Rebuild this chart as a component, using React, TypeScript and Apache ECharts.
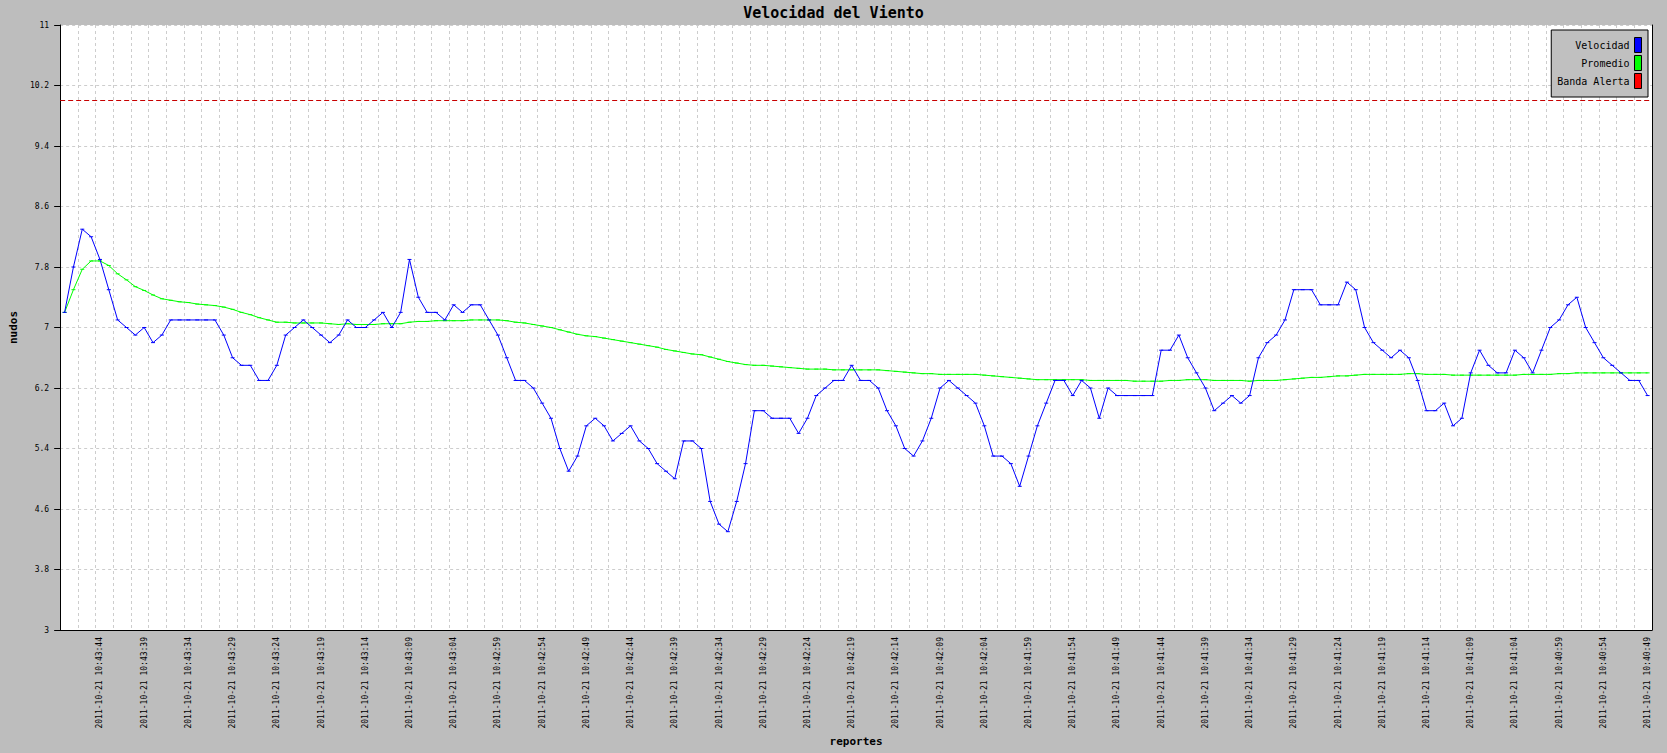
import React, { useEffect, useRef } from 'react';
import * as echarts from 'echarts';

const chartTitle = 'Velocidad del Viento';
const yAxisTitle = 'nudos';
const xAxisTitle = 'reportes';
const reportDate = '2011-10-21';
// leftmost (most recent) report; the reports go back one second each
const firstReportTime = '10:43:48';
const seriesNames = ['Velocidad', 'Promedio', 'Banda Alerta'];

const velocidad = [
  7.2, 7.8, 8.3, 8.2, 7.9, 7.5, 7.1, 7.0, 6.9, 7.0,
  6.8, 6.9, 7.1, 7.1, 7.1, 7.1, 7.1, 7.1, 6.9, 6.6,
  6.5, 6.5, 6.3, 6.3, 6.5, 6.9, 7.0, 7.1, 7.0, 6.9,
  6.8, 6.9, 7.1, 7.0, 7.0, 7.1, 7.2, 7.0, 7.2, 7.9,
  7.4, 7.2, 7.2, 7.1, 7.3, 7.2, 7.3, 7.3, 7.1, 6.9,
  6.6, 6.3, 6.3, 6.2, 6.0, 5.8, 5.4, 5.1, 5.3, 5.7,
  5.8, 5.7, 5.5, 5.6, 5.7, 5.5, 5.4, 5.2, 5.1, 5.0,
  5.5, 5.5, 5.4, 4.7, 4.4, 4.3, 4.7, 5.2, 5.9, 5.9,
  5.8, 5.8, 5.8, 5.6, 5.8, 6.1, 6.2, 6.3, 6.3, 6.5,
  6.3, 6.3, 6.2, 5.9, 5.7, 5.4, 5.3, 5.5, 5.8, 6.2,
  6.3, 6.2, 6.1, 6.0, 5.7, 5.3, 5.3, 5.2, 4.9, 5.3,
  5.7, 6.0, 6.3, 6.3, 6.1, 6.3, 6.2, 5.8, 6.2, 6.1,
  6.1, 6.1, 6.1, 6.1, 6.7, 6.7, 6.9, 6.6, 6.4, 6.2,
  5.9, 6.0, 6.1, 6.0, 6.1, 6.6, 6.8, 6.9, 7.1, 7.5,
  7.5, 7.5, 7.3, 7.3, 7.3, 7.6, 7.5, 7.0, 6.8, 6.7,
  6.6, 6.7, 6.6, 6.3, 5.9, 5.9, 6.0, 5.7, 5.8, 6.4,
  6.7, 6.5, 6.4, 6.4, 6.7, 6.6, 6.4, 6.7, 7.0, 7.1,
  7.3, 7.4, 7.0, 6.8, 6.6, 6.5, 6.4, 6.3, 6.3, 6.1,
];

const promedio = [
  7.20, 7.50, 7.77, 7.88, 7.88, 7.82, 7.71, 7.63, 7.54, 7.49,
  7.43, 7.38, 7.36, 7.34, 7.33, 7.31, 7.30, 7.29, 7.27, 7.24,
  7.20, 7.17, 7.13, 7.10, 7.07, 7.07, 7.06, 7.06, 7.06, 7.06,
  7.05, 7.04, 7.05, 7.04, 7.04, 7.04, 7.05, 7.05, 7.05, 7.07,
  7.08, 7.08, 7.09, 7.09, 7.09, 7.09, 7.10, 7.10, 7.10, 7.10,
  7.09, 7.07, 7.06, 7.04, 7.02, 7.00, 6.97, 6.94, 6.91, 6.89,
  6.88, 6.86, 6.84, 6.82, 6.80, 6.78, 6.76, 6.74, 6.71, 6.69,
  6.67, 6.65, 6.64, 6.61, 6.58, 6.55, 6.53, 6.51, 6.50, 6.50,
  6.49, 6.48, 6.47, 6.46, 6.45, 6.45, 6.45, 6.44, 6.44, 6.44,
  6.44, 6.44, 6.44, 6.43, 6.42, 6.41, 6.40, 6.39, 6.39, 6.38,
  6.38, 6.38, 6.38, 6.38, 6.37, 6.36, 6.35, 6.34, 6.33, 6.32,
  6.31, 6.31, 6.31, 6.31, 6.31, 6.31, 6.30, 6.30, 6.30, 6.30,
  6.30, 6.29, 6.29, 6.29, 6.29, 6.30, 6.30, 6.31, 6.31, 6.31,
  6.30, 6.30, 6.30, 6.30, 6.29, 6.30, 6.30, 6.30, 6.31, 6.32,
  6.33, 6.34, 6.34, 6.35, 6.36, 6.36, 6.37, 6.38, 6.38, 6.38,
  6.38, 6.38, 6.39, 6.39, 6.38, 6.38, 6.38, 6.37, 6.37, 6.37,
  6.37, 6.37, 6.37, 6.37, 6.37, 6.38, 6.38, 6.38, 6.38, 6.39,
  6.39, 6.40, 6.40, 6.40, 6.40, 6.40, 6.40, 6.40, 6.40, 6.40,
];

const alertBand = 10;
const yMin = 3;
const yMax = 11;
const yStep = 0.8;
const labelEvery = 5; // a timestamp label every 5 reports
const gridEvery = 2; // a vertical grid line every 2 reports

const pad2 = (n: number) => String(n).padStart(2, '0');
const toSeconds = (s: string) => {
  const [h, m, sec] = s.split(':').map(Number);
  return h * 3600 + m * 60 + sec;
};
const reportTimes = velocidad.map((_, i) => {
  const t = toSeconds(firstReportTime) - i;
  return `${reportDate} ${pad2(Math.floor(t / 3600))}:${pad2(Math.floor((t % 3600) / 60))}:${pad2(t % 60)}`;
});

const mono = "'DejaVu Sans Mono', 'Liberation Mono', monospace";
const gridLine = { color: '#CDCDCD', width: 1, type: [3, 3] as number[] };

export default function App() {
  const ref = useRef<HTMLDivElement>(null);

  useEffect(() => {
    if (!ref.current) return;
    const chart = echarts.init(ref.current, undefined, { renderer: 'svg' });
    const option = {
      animation: false,
      backgroundColor: '#BDBDBD',
      title: {
        text: chartTitle,
        left: 'center',
        top: 5,
        padding: 0,
        textStyle: { fontFamily: mono, fontSize: 15, fontWeight: 'bold', color: '#000' },
      },
      legend: {
        data: seriesNames,
        orient: 'vertical',
        align: 'right',
        right: 19,
        top: 30,
        backgroundColor: '#C0C0C0',
        borderColor: '#000',
        borderWidth: 1,
        borderRadius: 0,
        padding: [7, 6, 8, 6],
        itemGap: 2,
        itemWidth: 7,
        itemHeight: 15,
        icon: 'rect',
        selectedMode: false,
        itemStyle: { borderColor: '#000', borderWidth: 1 },
        textStyle: { fontFamily: mono, fontSize: 10, color: '#000' },
      },
      grid: {
        left: 53,
        right: 15,
        top: 25,
        bottom: 123,
        show: true,
        backgroundColor: '#FFFFFF',
        borderWidth: 0,
      },
      xAxis: [
        {
          type: 'category',
          data: reportTimes,
          boundaryGap: true,
          name: xAxisTitle,
          nameLocation: 'middle',
          nameGap: 106,
          nameTextStyle: { fontFamily: mono, fontSize: 11, fontWeight: 'bold', color: '#000' },
          axisLine: { show: true, lineStyle: { color: '#000', width: 1 } },
          axisTick: { show: false },
          axisLabel: {
            interval: (i: number) => i % labelEvery === labelEvery - 1,
            rotate: 90,
            fontSize: 8,
            fontFamily: mono,
            color: '#000',
            margin: 7,
          },
          splitLine: { show: false },
          z: 3,
        },
        {
          // only carries the vertical grid lines, one every two reports
          type: 'value',
          position: 'bottom',
          min: 0,
          max: reportTimes.length,
          interval: gridEvery,
          axisLine: { show: false },
          axisTick: { show: false },
          axisLabel: { show: false },
          splitLine: { show: true, lineStyle: gridLine },
        },
      ],
      yAxis: [
        {
          type: 'value',
          min: yMin,
          max: yMax,
          interval: yStep,
          name: yAxisTitle,
          nameLocation: 'middle',
          nameRotate: 90,
          nameGap: 35,
          nameTextStyle: { fontFamily: mono, fontSize: 11, fontWeight: 'bold', color: '#000' },
          axisLine: { show: true, lineStyle: { color: '#000', width: 1 } },
          axisTick: { show: true, length: 6, lineStyle: { color: '#000', width: 1 } },
          axisLabel: { fontSize: 8, fontFamily: mono, color: '#000', margin: 11 },
          splitLine: { show: true, lineStyle: gridLine },
          z: 3,
        },
        {
          type: 'value',
          position: 'right',
          min: yMin,
          max: yMax,
          interval: yStep,
          axisLine: { show: true, lineStyle: { color: '#000', width: 1 } },
          axisTick: { show: false },
          axisLabel: { show: false },
          splitLine: { show: false },
          z: 3,
        },
      ],
      series: [
        {
          name: seriesNames[0],
          type: 'line',
          data: velocidad,
          xAxisIndex: 0,
          yAxisIndex: 0,
          z: 4,
          symbol: 'rect',
          symbolSize: [4, 1],
          showAllSymbol: true,
          lineStyle: { color: '#0000FF', width: 1 },
          itemStyle: { color: '#0000FF' },
          emphasis: { disabled: true },
        },
        {
          name: seriesNames[1],
          type: 'line',
          data: promedio,
          xAxisIndex: 0,
          yAxisIndex: 0,
          z: 3,
          symbol: 'rect',
          symbolSize: [4, 1],
          showAllSymbol: true,
          lineStyle: { color: '#00FF00', width: 1 },
          itemStyle: { color: '#00FF00' },
          emphasis: { disabled: true },
        },
        {
          name: seriesNames[2],
          type: 'line',
          data: [],
          xAxisIndex: 0,
          yAxisIndex: 0,
          itemStyle: { color: '#FF0000' },
          markLine: {
            silent: true,
            symbol: ['none', 'none'],
            label: { show: false },
            lineStyle: { color: '#C80000', width: 1, type: [5, 3] },
            data: [{ yAxis: alertBand }],
          },
        },
      ],
    };
    chart.setOption(option as any);
    return () => chart.dispose();
  }, []);

  return (
    <div
      ref={ref}
      style={{ position: 'fixed', left: 0, top: 0, width: 1667, height: 753, background: '#BDBDBD' }}
    />
  );
}
